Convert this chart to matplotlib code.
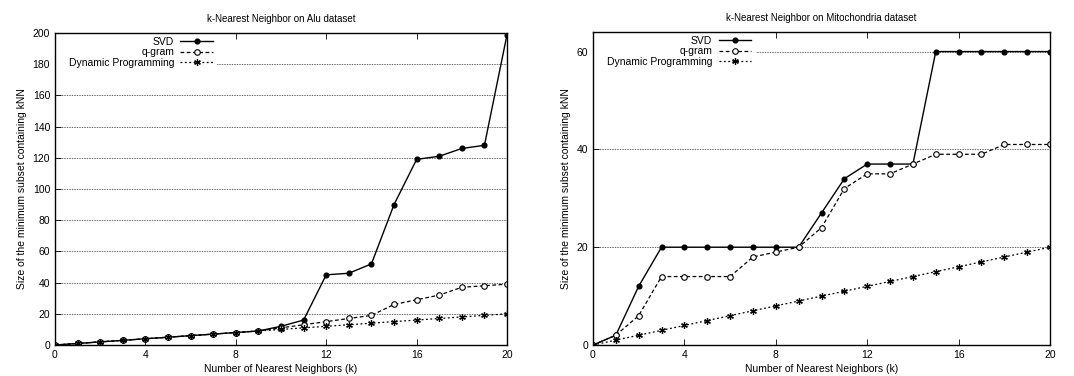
import matplotlib
matplotlib.use("Agg")
import matplotlib.pyplot as plt
from matplotlib.patches import Rectangle

k = list(range(21))

alu_svd = [0, 1, 2, 3, 4, 5, 6, 7, 8, 9, 12, 16, 45, 46, 52, 90, 119, 121, 126, 128, 199]
alu_qgram = [0, 1, 2, 3, 4, 5, 6, 7, 8, 9, 11, 13, 15, 17, 19, 26, 29, 32, 37, 38, 39]
alu_dp = [0, 1, 2, 3, 4, 5, 6, 7, 8, 9, 10, 11, 12, 13, 14, 15, 16, 17, 18, 19, 20]

mito_svd = [0, 2, 12, 20, 20, 20, 20, 20, 20, 20, 27, 34, 37, 37, 37, 60, 60, 60, 60, 60, 60]
mito_qgram = [0, 2, 6, 14, 14, 14, 14, 18, 19, 20, 24, 32, 35, 35, 37, 39, 39, 39, 41, 41, 41]
mito_dp = [0, 1, 2, 3, 4, 5, 6, 7, 8, 9, 10, 11, 12, 13, 14, 15, 16, 17, 18, 19, 20]

titles = ["k-Nearest Neighbor on Alu dataset", "k-Nearest Neighbor on Mitochondria dataset"]
labels = ["SVD", "q-gram", "Dynamic Programming"]
xticks = [0, 4, 8, 12, 16, 20]

plt.rcParams['font.family'] = ['Liberation Sans', 'DejaVu Sans']
plt.rcParams['font.size'] = 7.5

fig = plt.figure(figsize=(10.74, 3.76), dpi=100)
ax1 = fig.add_axes([0.0512, 0.0824, 0.4209, 0.8298])
ax2 = fig.add_axes([0.5521, 0.0824, 0.4256, 0.8325])

ast = (6, 2, 0)

def draw(ax, svd, qg, dp, ylim, yticks, title, key_w, key_h):
    ax.plot(k, svd, '-', color='black', lw=1.0, marker='o', ms=3.4, mfc='black', label=labels[0], zorder=3)
    ax.plot(k, qg, '--', color='black', lw=0.9, dashes=(3, 2), marker='o', ms=4.0, mfc='white', mew=0.8, label=labels[1], zorder=3)
    ax.plot(k, dp, ':', color='black', lw=0.9, dashes=(1.5, 2), marker=ast, ms=4.8, mew=0.9, label=labels[2], zorder=3)
    ax.set_xlim(0, 20)
    ax.set_ylim(*ylim)
    ax.set_xticks(xticks)
    ax.set_yticks(yticks)
    ax.grid(axis='y', linestyle=(0, (0.8, 1.2)), color='black', lw=0.6)
    ax.add_patch(Rectangle((0, 1 - key_h), key_w, key_h, transform=ax.transAxes,
                           facecolor='white', edgecolor='none', zorder=2))
    ax.tick_params(direction='in', top=True, right=False, length=4, width=0.6, labelsize=7.5)
    for s in ax.spines.values():
        s.set_linewidth(1.0)
        s.set_zorder(4)
    ax.set_title(title, fontsize=7, pad=8)
    ax.set_xlabel("Number of Nearest Neighbors (k)", fontsize=7.5, labelpad=3)
    ax.set_ylabel("Size of the minimum subset containing kNN", fontsize=7.5)
    leg = ax.legend(loc='upper left', bbox_to_anchor=(0.012, 1.014), markerfirst=False, frameon=False,
                    fontsize=7.5, handlelength=3.1, handletextpad=0.6, labelspacing=0.05, borderpad=0.3)
    for t in leg.get_texts():
        t.set_ha('right')
    return leg

draw(ax1, alu_svd, alu_qgram, alu_dp, (0, 200), list(range(0, 201, 20)), titles[0], 0.358, 0.12)
draw(ax2, mito_svd, mito_qgram, mito_dp, (0, 64), [0, 20, 40, 60], titles[1], 0.357, 0.11)

fig.savefig("out.png", dpi=100)
